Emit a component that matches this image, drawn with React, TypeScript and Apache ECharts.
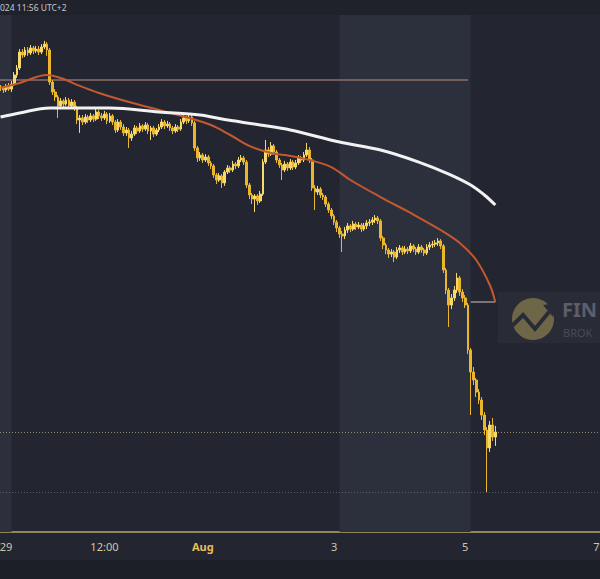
import { useEffect, useRef } from "react";
import * as echarts from "echarts";

// Hourly candles, x = hours from 29 Jul 00:00 (UTC+2); first candle is 28 Jul 22:00.
const START_HOUR = -2;
const FIRST_OPEN = 68170;

const CLOSES = [
  68130, 68040, 68220, 68080, 68300, 68700, 69010, 69710, 69580, 69800,
  69670, 69890, 69760, 69840, 69710, 69930, 70060, 69800, 68390, 67950,
  67730, 67340, 67560, 67420, 67600, 67340, 67510, 67250, 66720, 66810,
  66630, 66850, 66720, 66900, 66760, 67070, 66900, 66810, 66980, 66680,
  66900, 66630, 66280, 66630, 66410, 66150, 66280, 65930, 66100, 66370,
  66240, 66460, 66320, 66500, 66240, 66370, 66100, 66280, 66410, 66630,
  66460, 66540, 66370, 66240, 66410, 66320, 66630, 66810, 66680, 66850,
  66590, 65490, 65050, 65180, 64960, 65090, 64830, 64700, 64300, 64080,
  64260, 63950, 64430, 64610, 64520, 64780, 64700, 64960, 65050, 64870,
  63860, 63420, 63240, 63380, 63160, 63460, 64870, 65400, 65220, 65580,
  65310, 64960, 64740, 64520, 64780, 64610, 64870, 64650, 64830, 65050,
  64960, 65180, 65400, 64960, 63730, 63550, 63680, 63420, 63330, 63020,
  62760, 62500, 62230, 61970, 61700, 61620, 61880, 62060, 61920, 62140,
  62010, 62100, 61920, 62060, 62190, 62230, 62320, 62410, 62280, 61530,
  61220, 61000, 60820, 60910, 60690, 61000, 61090, 60910, 61040, 60960,
  61180, 61040, 60910, 61130, 61000, 60870, 61130, 61220, 61260, 61310,
  61400, 61180, 60120, 59240, 58580, 58890, 59240, 59770, 59150, 58890,
  58580, 56600, 55630, 55280, 54750, 54400, 53740, 53080, 52290, 53300,
  52770, 52990,
];

const HIGHS = [
  68260, 68220, 68300, 68350, 68440, 68830, 69140, 69840, 69840, 69930,
  69930, 70020, 69980, 69980, 69980, 70060, 70200, 70150, 69890, 68480,
  68080, 67820, 67690, 67640, 67730, 67690, 67640, 67600, 67340, 66940,
  66940, 66980, 66940, 67030, 66980, 67200, 67160, 67030, 67120, 67070,
  67030, 66980, 66720, 66760, 66720, 66540, 66410, 66370, 66240, 66500,
  66460, 66590, 66540, 66630, 66590, 66460, 66460, 66370, 66540, 66760,
  66720, 66680, 66630, 66460, 66540, 66500, 66760, 66940, 66900, 66980,
  66940, 66680, 65580, 65310, 65270, 65220, 65180, 64920, 64780, 64390,
  64390, 64340, 64520, 64740, 64700, 64920, 64870, 65090, 65180, 65140,
  64960, 63950, 63510, 63460, 63460, 63600, 65000, 65840, 65530, 65750,
  65660, 65400, 65050, 64830, 64920, 64870, 65000, 64960, 64960, 65180,
  65140, 65310, 65710, 65530, 65050, 63860, 63820, 63770, 63510, 63420,
  63110, 62850, 62580, 62320, 62060, 61840, 62010, 62190, 62140, 62280,
  62230, 62230, 62190, 62190, 62320, 62360, 62450, 62540, 62500, 62360,
  61620, 61310, 61090, 61040, 61000, 61130, 61220, 61180, 61180, 61130,
  61310, 61260, 61130, 61260, 61220, 61090, 61260, 61350, 61400, 61440,
  61530, 61480, 61260, 60210, 59330, 59060, 59420, 59990, 59860, 59280,
  59020, 58670, 56690, 55850, 55370, 54880, 54530, 53870, 53210, 53480,
  53610, 53260,
];

const LOWS = [
  68000, 67910, 67950, 68000, 67950, 68220, 68570, 68920, 69450, 69490,
  69540, 69580, 69620, 69670, 69580, 69620, 69840, 69540, 68260, 67820,
  67560, 66810, 67250, 67290, 67340, 67200, 67250, 67120, 66540, 66150,
  66500, 66540, 66590, 66630, 66630, 66680, 66760, 66680, 66720, 66540,
  66590, 66500, 66150, 66190, 66280, 66020, 66020, 65490, 65800, 66020,
  66100, 66150, 66190, 66240, 66100, 65840, 65970, 66020, 66190, 66320,
  66320, 66370, 66240, 66100, 66150, 66190, 66240, 66540, 66540, 66590,
  66460, 65360, 64870, 64920, 64830, 64870, 64700, 64560, 64170, 63900,
  63990, 63730, 63820, 64340, 64390, 64430, 64560, 64610, 64870, 64740,
  63730, 63240, 63020, 62670, 62980, 63070, 63380, 64780, 65090, 65140,
  65180, 64830, 64610, 64080, 64430, 64480, 64520, 64520, 64560, 64740,
  64830, 64870, 65090, 64830, 63600, 62760, 63420, 63290, 63200, 62890,
  62630, 62360, 62100, 61790, 61530, 60910, 61480, 61750, 61790, 61840,
  61880, 61920, 61790, 61840, 61920, 62060, 62100, 62190, 62140, 61400,
  61040, 60820, 60650, 60690, 60470, 60600, 60870, 60780, 60820, 60820,
  60870, 60910, 60780, 60820, 60870, 60740, 60780, 61000, 61090, 61130,
  61180, 61040, 59990, 59060, 57610, 58400, 58760, 59110, 58980, 58710,
  58450, 56420, 53740, 55060, 54530, 54220, 53520, 52860, 50350, 52110,
  52600, 52380,
];

// Moving averages as [hour, price]
const FAST_MA: [number, number][] = [
  [-2, 68130], [5, 68350], [15, 68700], [20, 68570], [27, 68220], [34, 67910],
  [45, 67510], [56, 67160], [67, 66810], [75, 66500], [82, 66060], [89, 65580],
  [97, 65270], [104, 65140], [111, 64960], [119, 64650], [126, 64080], [137, 63330],
  [148, 62630], [159, 61880], [166, 61310], [172, 60560], [177, 59460], [179, 58710],
];
const SLOW_MA: [number, number][] = [
  [-2, 66850], [5, 67030], [16, 67250], [27, 67250], [38, 67250], [56, 67070],
  [71, 66940], [79, 66760], [93, 66500], [104, 66280], [122, 65750], [137, 65400],
  [151, 64870], [162, 64340], [170, 63860], [175, 63420], [179, 62980],
];

const TICK_HOURS = [0, 36, 72, 120, 168, 216];
const TICK_LABELS = ["29", "12:00", "Aug", "3", "5", "7"];
const MONTH_TICK = 72;

const WEEKENDS: [number, number][] = [
  [-3, 2],
  [122, 170],
];

const LEVEL_PRICE = 68480;
const LEVEL_END_HOUR = 169;
const MA_MARK_START_HOUR = 170;

const HEADER_TEXT = "024 11:56 UTC+2";

const X_MIN = -2.195;
const X_MAX = 217.3;
const Y_MIN = 48592;
const Y_MAX = 71340;

const BG = "#232631";

export default function App() {
  const ref = useRef<HTMLDivElement>(null);

  useEffect(() => {
    if (!ref.current) return;
    const chart = echarts.init(ref.current, null, { renderer: "svg" });

    const candles = CLOSES.map((c, i) => [
      START_HOUR + i,
      i === 0 ? FIRST_OPEN : CLOSES[i - 1],
      c,
      LOWS[i],
      HIGHS[i],
    ]);
    const lastClose = CLOSES[CLOSES.length - 1];
    const lowest = Math.min(...LOWS);
    const lastHour = START_HOUR + CLOSES.length - 1;
    const fastLast = FAST_MA[FAST_MA.length - 1];

    chart.setOption({
      animation: false,
      backgroundColor: BG,
      grid: {
        left: 0,
        right: 0,
        top: 15,
        bottom: 47,
        outerBoundsMode: "none",
        containLabel: false,
      },
      xAxis: {
        type: "value",
        min: X_MIN,
        max: X_MAX,
        axisLine: { show: true, onZero: false, lineStyle: { color: "#8e875c", width: 2 } },
        axisTick: { show: false },
        splitLine: { show: false },
        axisLabel: {
          customValues: TICK_HOURS,
          margin: 9,
          color: "#cfc8a6",
          fontSize: 11,
          fontFamily: "Noto Sans",
          formatter: (v: number) => {
            const idx = TICK_HOURS.indexOf(Math.round(v));
            if (idx < 0) return "";
            return v === MONTH_TICK ? `{m|${TICK_LABELS[idx]}}` : TICK_LABELS[idx];
          },
          rich: {
            m: { color: "#e6bf55", fontWeight: "bold", fontSize: 11, fontFamily: "Noto Sans" },
          },
        },
      },
      yAxis: {
        type: "value",
        min: Y_MIN,
        max: Y_MAX,
        show: false,
        splitLine: { show: false },
      },
      graphic: [
        { type: "rect", shape: { x: 0, y: 0, width: 600, height: 15 }, style: { fill: "#1f222b" }, silent: true },
        { type: "rect", shape: { x: 0, y: 560, width: 600, height: 19 }, style: { fill: "#1d1f27" }, silent: true },
        {
          type: "text",
          x: 0,
          y: 3,
          style: { text: HEADER_TEXT, fill: "#c4c7cd", font: "8.5px Noto Sans" },
          silent: true,
        },
        {
          type: "group",
          silent: true,
          children: [
            { type: "rect", shape: { x: 498, y: 292, width: 110, height: 51 }, style: { fill: "#292c37" } },
            { type: "circle", shape: { cx: 533, cy: 319, r: 21 }, style: { fill: "#6e6747" } },
            {
              type: "polyline",
              shape: { points: [[511, 327], [523, 315], [535, 329], [549, 312]] },
              style: { stroke: "#292c37", lineWidth: 4, fill: null },
            },
            {
              type: "polygon",
              shape: { points: [[543, 305], [557, 303], [553, 317]] },
              style: { fill: "#292c37" },
            },
            {
              type: "text",
              x: 562,
              y: 299,
              style: { text: "FIN", fill: "#5b5f6b", font: "bold 20px Noto Sans" },
            },
            {
              type: "text",
              x: 563,
              y: 327,
              style: { text: "BROK", fill: "#474b56", font: "11px Noto Sans" },
            },
          ],
        },
      ],
      series: [
        {
          type: "candlestick",
          name: "Price",
          data: candles,
          barWidth: 2.2,
          z: 3,
          itemStyle: {
            color: "#f7d86c",
            color0: "#eab72c",
            borderColor: "#f7d86c",
            borderColor0: "#eab72c",
            borderWidth: 1,
          },
          markArea: {
            silent: true,
            z: 1,
            itemStyle: { color: "#2c303c" },
            data: WEEKENDS.map(([a, b]) => [{ xAxis: a }, { xAxis: b }]),
          },
          markLine: {
            silent: true,
            symbol: ["none", "none"],
            label: { show: false },
            z: 2,
            data: [
              [
                { coord: [X_MIN, LEVEL_PRICE], lineStyle: { color: "#8d6f6b", width: 1.5, type: "solid" } },
                { coord: [LEVEL_END_HOUR, LEVEL_PRICE] },
              ],
              [
                { coord: [MA_MARK_START_HOUR, fastLast[1]], lineStyle: { color: "#9a8f8c", width: 1.5, type: "solid" } },
                { coord: [lastHour, fastLast[1]] },
              ],
              { yAxis: lastClose, lineStyle: { color: "#8f8966", width: 1, type: [1, 2] } },
              { yAxis: lowest, lineStyle: { color: "#575b66", width: 1, type: [1, 2] } },
            ],
          },
        },
        {
          type: "line",
          name: "MA fast",
          data: FAST_MA,
          smooth: 0.35,
          showSymbol: false,
          z: 4,
          lineStyle: { color: "#c4582e", width: 2 },
        },
        {
          type: "line",
          name: "MA slow",
          data: SLOW_MA,
          smooth: 0.35,
          showSymbol: false,
          z: 4,
          lineStyle: { color: "#f2f2f2", width: 3 },
        },
      ],
    });

    return () => chart.dispose();
  }, []);

  return (
    <div
      ref={ref}
      style={{ position: "fixed", left: 0, top: 0, width: 600, height: 579 }}
    />
  );
}
